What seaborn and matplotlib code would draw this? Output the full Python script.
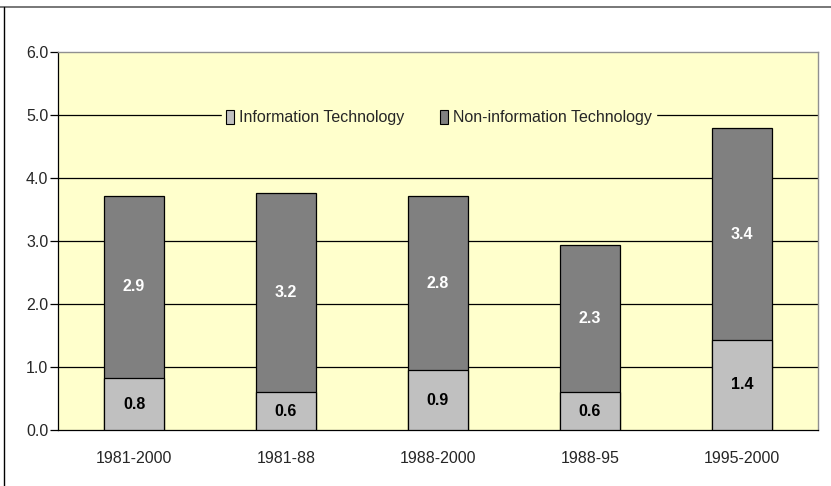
import matplotlib
matplotlib.use("Agg")
import matplotlib.pyplot as plt
from matplotlib.lines import Line2D
from matplotlib.patches import Patch
import numpy as np
import pandas as pd
import seaborn as sns

# ---------------------------------------------------------------------------
# Data
# ---------------------------------------------------------------------------
periods = ["1981-2000", "1981-88", "1988-2000", "1988-95", "1995-2000"]
it_contrib = [0.82, 0.60, 0.95, 0.60, 1.43]
non_it_contrib = [2.90, 3.16, 2.76, 2.33, 3.36]
y_ticks = [0.0, 1.0, 2.0, 3.0, 4.0, 5.0, 6.0]

IT_COLOUR = "#C0C0C0"
NONIT_COLOUR = "#808080"
PLOT_BG = "#FFFFCC"

df = pd.DataFrame({
    "period": periods,
    "it": it_contrib,
    "non_it": non_it_contrib,
})
df["total"] = df["it"] + df["non_it"]

sns.set_style("white")
plt.rcParams["font.family"] = ["Liberation Sans", "DejaVu Sans"]

FS = 11.5

fig = plt.figure(figsize=(8.31, 4.86), dpi=100)
ax = fig.add_axes([58 / 831, 1 - 430 / 486, 760 / 831, 378 / 486])
ax.set_facecolor(PLOT_BG)

# gridlines
for yv in y_ticks[1:-1]:
    ax.axhline(yv, color="black", lw=0.9, zorder=1)

# stacked bars: total (non-IT colour) first, IT on top of it
sns.barplot(data=df, x="period", y="total", color=NONIT_COLOUR, width=0.4,
            edgecolor="black", linewidth=0.9, saturation=1, ax=ax, zorder=2)
sns.barplot(data=df, x="period", y="it", color=IT_COLOUR, width=0.4,
            edgecolor="black", linewidth=0.9, saturation=1, ax=ax, zorder=3)

for i, row in df.iterrows():
    ax.text(i, row["it"] / 2, f"{row['it']:.1f}", ha="center", va="center",
            fontsize=FS, fontweight="bold", color="black", zorder=4)
    ax.text(i, row["it"] + row["non_it"] / 2, f"{row['non_it']:.1f}",
            ha="center", va="center", fontsize=FS, fontweight="bold",
            color="white", zorder=4)

ax.set_xlim(-0.5, len(periods) - 0.5)
ax.set_ylim(0, 6)
ax.set_yticks(y_ticks)
ax.set_yticklabels([f"{v:.1f}" for v in y_ticks], fontsize=FS)
ax.set_xlabel("")
ax.set_ylabel("")
ax.tick_params(axis="x", which="major", length=0, pad=15, labelsize=FS)
ax.set_xticks(np.arange(-0.5, len(periods)), minor=True)
ax.tick_params(axis="x", which="minor", length=4, direction="out",
               color="black", width=0.9)
ax.tick_params(axis="y", length=6, direction="out", color="black",
               width=0.9, left=True, pad=1)

for side in ("left", "bottom"):
    ax.spines[side].set_color("black")
    ax.spines[side].set_linewidth(0.9)
for side in ("top", "right"):
    ax.spines[side].set_color("#909090")
    ax.spines[side].set_linewidth(1.0)

handles = [
    Patch(facecolor=IT_COLOUR, edgecolor="black", lw=0.8,
          label="Information Technology"),
    Patch(facecolor=NONIT_COLOUR, edgecolor="black", lw=0.8,
          label="Non-information Technology"),
]
leg = ax.legend(handles=handles, loc="center", bbox_to_anchor=(0.501, 0.827),
                ncol=2, frameon=True, fontsize=11.5, handlelength=0.55,
                handleheight=1.0, handletextpad=0.3, columnspacing=2.2,
                borderpad=0.25, fancybox=False)
leg.get_frame().set_facecolor(PLOT_BG)
leg.get_frame().set_edgecolor(PLOT_BG)
leg.get_frame().set_alpha(1)
leg.set_zorder(5)

# outer frame pieces (top line and left edge)
fig.add_artist(Line2D([0, 1], [1 - 7 / 486, 1 - 7 / 486],
                      transform=fig.transFigure, color="#606060", lw=1.2))
fig.add_artist(Line2D([4 / 831, 4 / 831], [0, 1 - 7 / 486],
                      transform=fig.transFigure, color="black", lw=1.0))

fig.savefig("out.png", dpi=100)
plt.close(fig)
